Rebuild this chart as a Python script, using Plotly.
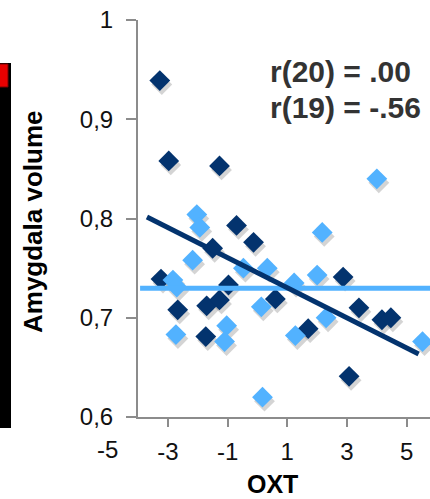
import plotly.graph_objects as go

# ---- data ----
dark_x = [-3.27, -2.97, -1.27, -0.70, -1.50, -0.13, -3.23, -2.67, -0.97, -1.70,
          -1.27, -1.73, 0.60, 2.87, 3.40, 4.17, 4.47, 1.70, 3.07]
dark_y = [0.939, 0.858, 0.853, 0.793, 0.770, 0.776, 0.739, 0.708, 0.733, 0.712,
          0.718, 0.681, 0.719, 0.741, 0.710, 0.698, 0.700, 0.689, 0.641]
light_x = [4.00, 2.17, -2.03, -1.93, -2.17, -2.83, -2.70, -2.73, -1.03, -1.10,
           -0.47, 0.33, 0.13, 0.17, 1.23, 2.00, 2.30, 1.27, 5.53]
light_y = [0.840, 0.786, 0.804, 0.791, 0.758, 0.738, 0.731, 0.683, 0.692, 0.676,
           0.750, 0.750, 0.711, 0.620, 0.735, 0.743, 0.700, 0.682, 0.676]
dark_fit_x = [-3.7, 5.4]
dark_fit_y = [0.8015, 0.6635]
light_fit_x = [-3.93, 6.0]
light_fit_y = [0.7296, 0.7296]

x_tick_vals = [-5, -3, -1, 1, 3, 5]
x_tick_text = ["-5", "-3", "-1", "1", "3", "5"]
y_tick_vals = [0.6, 0.7, 0.8, 0.9, 1.0]
y_tick_text = ["0,6", "0,7", "0,8", "0,9", "1"]
stat_labels = ["r(20) = .00", "r(19) = -.56"]
x_title = "OXT"
y_title = "Amygdala volume"

# ---- styling ----
DARK = "#03336E"
LIGHT = "#52B2FF"
AXIS = "#8C8C8C"
FONT = "Liberation Sans, Arial, sans-serif"
W, H = 430, 499
ML, MR, MT, MB = 138, 0, 20, 82
XR = [-4, 5.78]
YR = [0.6, 1.0]
pw, ph = W - ML - MR, H - MT - MB
dxu = 2 * (XR[1] - XR[0]) / pw
dyu = 4 * (YR[1] - YR[0]) / ph

fig = go.Figure()

# empty trace so the main (visible) axes are drawn
fig.add_trace(go.Scatter(x=[None], y=[None], mode="markers", showlegend=False, hoverinfo="skip"))

# shadows (overlay axes shifted a few pixels)
for xs, ys in ((dark_x, dark_y), (light_x, light_y)):
    fig.add_trace(go.Scatter(x=xs, y=ys, mode="markers", xaxis="x2", yaxis="y2",
                             marker=dict(symbol="diamond", size=16, color="rgba(60,60,60,0.22)",
                                         line=dict(width=0)),
                             hoverinfo="skip", showlegend=False))

fig.add_trace(go.Scatter(x=dark_x, y=dark_y, mode="markers", xaxis="x3", yaxis="y3",
                         marker=dict(symbol="diamond", size=16, color=DARK, line=dict(width=0)),
                         showlegend=False))
fig.add_trace(go.Scatter(x=light_x, y=light_y, mode="markers", xaxis="x3", yaxis="y3",
                         marker=dict(symbol="diamond", size=16, color=LIGHT, line=dict(width=0)),
                         showlegend=False))
fig.add_trace(go.Scatter(x=light_fit_x, y=light_fit_y, mode="lines", xaxis="x3", yaxis="y3",
                         line=dict(color=LIGHT, width=5), showlegend=False))
fig.add_trace(go.Scatter(x=dark_fit_x, y=dark_fit_y, mode="lines", xaxis="x3", yaxis="y3",
                         line=dict(color=DARK, width=5), showlegend=False))

tickfont = dict(family=FONT, size=24, color="#111111")
fig.update_layout(
    width=W, height=H,
    margin=dict(l=ML, r=MR, t=MT, b=MB),
    paper_bgcolor="white", plot_bgcolor="white",
    showlegend=False,
    xaxis=dict(range=XR, showgrid=False, zeroline=False, showline=True, linecolor=AXIS,
               linewidth=2, ticks="outside", ticklen=8, tickwidth=2, tickcolor=AXIS,
               tickvals=x_tick_vals[1:], ticktext=x_tick_text[1:], tickfont=tickfont,
               ticklabelstandoff=4),
    yaxis=dict(range=YR, showgrid=False, zeroline=False, showline=True, linecolor=AXIS,
               linewidth=2, ticks="outside", ticklen=10, tickwidth=2, tickcolor=AXIS,
               tickvals=y_tick_vals, ticktext=y_tick_text, tickfont=tickfont,
               ticklabelstandoff=8),
    xaxis2=dict(range=[XR[0] - dxu, XR[1] - dxu], overlaying="x", visible=False),
    yaxis2=dict(range=[YR[0] + dyu, YR[1] + dyu], overlaying="y", visible=False),
    xaxis3=dict(range=XR, overlaying="x", visible=False),
    yaxis3=dict(range=YR, overlaying="y", visible=False),
)

def px_x(p):
    return (p - ML) / pw

def px_y(p):
    return (H - MB - p) / ph

anns = []
# "-5" tick label sits left of the vertical axis
anns.append(dict(xref="paper", yref="paper",
                 x=(x_tick_vals[0] - XR[0]) / (XR[1] - XR[0]) - 1 / pw,
                 y=px_y(449), text=x_tick_text[0], showarrow=False,
                 xanchor="center", yanchor="middle", font=tickfont))
anns.append(dict(xref="paper", yref="paper", x=px_x(272), y=px_y(484), text=f"<b>{x_title}</b>",
                 showarrow=False, xanchor="center", yanchor="middle",
                 font=dict(family=FONT, size=25, color="#000000")))
anns.append(dict(xref="paper", yref="paper", x=px_x(33), y=px_y(222), text=f"<b>{y_title}</b>",
                 textangle=-90, showarrow=False, xanchor="center", yanchor="middle",
                 font=dict(family=FONT, size=26, color="#000000")))
for lbl, yp in zip(stat_labels, (71, 108)):
    anns.append(dict(xref="paper", yref="paper", x=px_x(268), y=px_y(yp), text=f"<b>{lbl}</b>",
                     showarrow=False, xanchor="left", yanchor="middle",
                     font=dict(family=FONT, size=30, color="#333333")))
fig.update_layout(annotations=anns)

# black strip with red marker at the left edge (cropped neighbour panel)
fig.add_shape(type="rect", xref="paper", yref="paper", x0=px_x(-2), x1=px_x(11),
              y0=px_y(428), y1=px_y(63), fillcolor="black", line=dict(width=0), layer="above")
fig.add_shape(type="rect", xref="paper", yref="paper", x0=px_x(-2), x1=px_x(8),
              y0=px_y(87), y1=px_y(64), fillcolor="#E80000", line=dict(color="#7A0000", width=1),
              layer="above")

fig.write_html("out.html")
